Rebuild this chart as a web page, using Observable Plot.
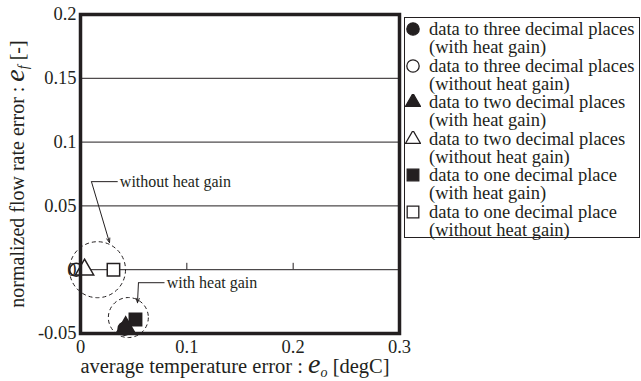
<!DOCTYPE html>
<html><head><meta charset="utf-8">
<script src="https://cdn.jsdelivr.net/npm/d3@7"></script>
<script src="https://cdn.jsdelivr.net/npm/@observablehq/plot@0.6"></script>
<style>
body{margin:0;background:#fff;}
#wrap{position:relative;width:641px;height:381px;font-family:"Liberation Serif","Times New Roman",serif;color:#231f20;overflow:hidden;}
#legend{position:absolute;left:404px;top:17px;width:236px;height:221px;border:1px solid #231f20;box-sizing:border-box;padding-top:2px;background:#fff;}
.item{position:relative;height:36.5px;padding-left:24px;font-size:18.5px;line-height:18.2px;white-space:nowrap;}
.item svg{position:absolute;left:0px;top:1px;}
</style></head>
<body><div id="wrap"><div id="chart"></div><div id="legend"></div></div>
<script>
// ---- data ----
const seriesLine1 = ["data to three decimal places","data to three decimal places","data to two decimal places","data to two decimal places","data to one decimal place","data to one decimal place"];
const seriesLine2 = ["(with heat gain)","(without heat gain)","(with heat gain)","(without heat gain)","(with heat gain)","(without heat gain)"];
const symbols = ["circle","circle","triangle","triangle","square","square"];
const filled = [true,false,true,false,true,false];
const xVals = [0.0415, -0.004, 0.0425, 0.0038, 0.0517, 0.031];
const yVals = [-0.0462, 0.0, -0.0452, 0.0, -0.039, 0.0];
const xTicks = [0, 0.1, 0.2, 0.3];
const yTicks = [-0.05, 0, 0.05, 0.1, 0.15, 0.2];
const gridY = [0, 0.05, 0.1, 0.15];
const minorX = [0.1, 0.2];
const groupLabels = ["without heat gain","with heat gain"];
const groupCircleX = [0.016, 0.045];
const groupCircleY = [0.0, -0.0375];
const groupCircleR = [28, 20];
const leaderTextX = [0.037, 0.081];
const leaderTextY = [0.069, -0.0102];
const leaderCornerX = [0.0103, 0.0545];
const leaderTipX = [0.0273, 0.0536];
const leaderTipY = [0.0212, -0.0259];

const ink = "#231f20";
const rBy = {circle:6.5, triangle:6.8, square:7.0};
const data = xVals.map((x,i)=>({x, y:yVals[i], symbol:symbols[i], filled:filled[i]}));
const groups = groupLabels.map((t,i)=>({t, cx:groupCircleX[i], cy:groupCircleY[i], r:groupCircleR[i],
  tx:leaderTextX[i], ty:leaderTextY[i], kx:leaderCornerX[i], px:leaderTipX[i], py:leaderTipY[i]}));

const marks = [
  Plot.ruleY(gridY, {stroke: ink, strokeWidth: 1}),
  Plot.ruleX(minorX, {y1: 0, y2: 0.005, stroke: ink, strokeWidth: 1}),
];
groups.forEach(g => {
  marks.push(Plot.dot([g], {x:"cx", y:"cy", r:g.r, stroke:ink, strokeWidth:1, strokeDasharray:"4,3", fill:"none"}));
  marks.push(Plot.link([g], {x1:"kx", y1:"ty", x2: d=>d.tx-0.002, y2:"ty", stroke:ink, strokeWidth:1}));
  marks.push(Plot.arrow([g], {x1:"kx", y1:"ty", x2:"px", y2:"py", stroke:ink, strokeWidth:1, headLength:7, headAngle:40}));
  marks.push(Plot.text([g], {x:"tx", y:"ty", text:"t", textAnchor:"start", fontSize:16, fill:ink}));
});
data.forEach(d => {
  marks.push(Plot.dot([d], {x:"x", y:"y", symbol:d.symbol, r:rBy[d.symbol],
    fill: d.filled ? ink : "#fff", stroke: ink, strokeWidth: 1.5}));
});
marks.push(Plot.frame({stroke: ink, strokeWidth: 3.5}));
marks.push(Plot.axisX({ticks: xTicks, tickSize: 0, tickPadding: 6, tickFormat: d=>String(d), label: null, fontSize: 18.5, fill: ink}));
marks.push(Plot.axisY({ticks: yTicks, tickSize: 0, tickPadding: 4, tickFormat: d=>String(d), label: null, fontSize: 18.5, fill: ink}));

const chart = Plot.plot({
  width: 641, height: 381,
  marginLeft: 80, marginRight: 242, marginTop: 14, marginBottom: 48,
  x: {domain: [0, 0.3]},
  y: {domain: [-0.05, 0.2]},
  style: {fontFamily: '"Liberation Serif","Times New Roman",serif', color: ink, background: "#fff", overflow: "visible"},
  marks
});
document.getElementById("chart").appendChild(chart);

// axis titles with italic symbols
const svg = d3.select(chart);
const yl = svg.append("text").attr("transform","translate(24,174) rotate(-90)")
  .attr("text-anchor","middle").attr("font-size",20).attr("fill",ink);
yl.append("tspan").text("normalized flow rate error : ");
yl.append("tspan").attr("font-style","italic").attr("font-size",28).text("e");
yl.append("tspan").attr("font-style","italic").attr("font-size",14).attr("dy",4).text("f");
yl.append("tspan").attr("dy",-4).text(" [-]");

const xl = svg.append("text").attr("x",235).attr("y",373)
  .attr("text-anchor","middle").attr("font-size",20.5).attr("fill",ink);
xl.append("tspan").text("average temperature error : ");
xl.append("tspan").attr("font-style","italic").attr("font-size",28).text("e");
xl.append("tspan").attr("font-style","italic").attr("font-size",14).attr("dy",4).text("o");
xl.append("tspan").attr("dy",-4).text(" [degC]");

// legend
const legend = d3.select("#legend");
seriesLine1.forEach((l1,i) => {
  const item = legend.append("div").attr("class","item");
  const s = item.append("svg").attr("width",16).attr("height",16);
  const sym = {circle:d3.symbolCircle, triangle:d3.symbolTriangle, square:d3.symbolSquare}[symbols[i]];
  const size = {circle:120, triangle:95, square:135}[symbols[i]];
  s.append("path").attr("transform","translate(8,8)").attr("d", d3.symbol(sym, size)())
    .attr("fill", filled[i] ? ink : "#fff").attr("stroke", ink).attr("stroke-width",1.3);
  item.append("div").text(l1);
  item.append("div").text(seriesLine2[i]);
});
</script></body></html>
